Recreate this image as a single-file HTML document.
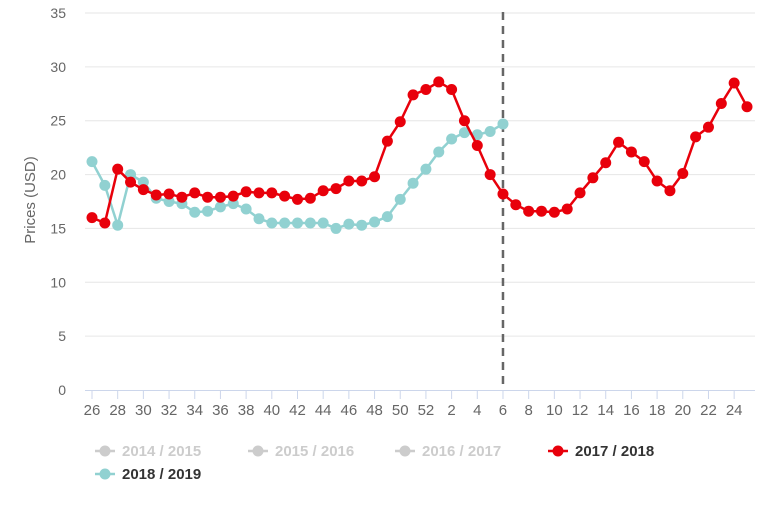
<!DOCTYPE html>
<html><head><meta charset="utf-8"><style>
body{margin:0;background:#fff;}
svg{font-family:"Liberation Sans",sans-serif;}
</style></head><body>
<svg width="768" height="512" id="c">
<g id="grid"></g>
<g id="axes"></g>
<text transform="translate(35,200) rotate(-90)" text-anchor="middle" font-size="15" fill="#666">Prices (USD)</text>
<g id="series"></g>
<g id="legend"></g>
</svg>
<script>
const weeks=[26,27,28,29,30,31,32,33,34,35,36,37,38,39,40,41,42,43,44,45,46,47,48,49,50,51,52,1,2,3,4,5,6,7,8,9,10,11,12,13,14,15,16,17,18,19,20,21,22,23,24,25];
const series2017=[16.0,15.5,20.5,19.3,18.6,18.1,18.2,17.9,18.3,17.9,17.9,18.0,18.4,18.3,18.3,18.0,17.7,17.8,18.5,18.7,19.4,19.4,19.8,23.1,24.9,27.4,27.9,28.6,27.9,25.0,22.7,20.0,18.2,17.2,16.6,16.6,16.5,16.8,18.3,19.7,21.1,23.0,22.1,21.2,19.4,18.5,20.1,23.5,24.4,26.6,28.5,26.3];
const series2018=[21.2,19.0,15.3,20.0,19.3,17.8,17.5,17.3,16.5,16.6,17.0,17.3,16.8,15.9,15.5,15.5,15.5,15.5,15.5,15.0,15.4,15.3,15.6,16.1,17.7,19.2,20.5,22.1,23.3,23.9,23.7,24.0,24.7];
const yTicks=[0,5,10,15,20,25,30,35];
const currentWeekIndex=32;
const NS="http://www.w3.org/2000/svg";
const x=i=>92+i*(655/51);
const y=v=>390-v*(377/35);
function mk(tag,attrs,parent){const e=document.createElementNS(NS,tag);for(const k in attrs)e.setAttribute(k,attrs[k]);parent.appendChild(e);return e;}
const grid=document.getElementById('grid'),axes=document.getElementById('axes'),ser=document.getElementById('series'),leg=document.getElementById('legend');
yTicks.forEach(t=>{
 if(t>0){const l=mk('line',{x1:85,x2:755,y1:y(t),y2:y(t),stroke:'#e6e6e6'},grid);
 }
 const tx=mk('text',{x:66,y:y(t)+5,'text-anchor':'end','font-size':14,fill:'#666'},axes);tx.textContent=t;
 
});
const ax=mk('line',{x1:85,x2:755,y1:390.5,y2:390.5,stroke:'#ccd6eb'},axes);

weeks.forEach((w,i)=>{
 if(w%2===0){
 mk('line',{x1:x(i),x2:x(i),y1:390,y2:399,stroke:'#ccd6eb'},axes);
 const tx=mk('text',{x:x(i),y:415,'text-anchor':'middle','font-size':15,fill:'#666'},axes);tx.textContent=w;
 }
});
const dl=mk('line',{x1:x(currentWeekIndex),x2:x(currentWeekIndex),y1:12,y2:390,stroke:'#666','stroke-width':2.5,'stroke-dasharray':'8,6'},ser);

function draw(data,color,name){
 const g=mk('g',{},ser);
 mk('polyline',{points:data.map((v,i)=>x(i)+','+y(v)).join(' '),fill:'none',stroke:color,'stroke-width':2.5},g);
 data.forEach((v,i)=>{const c=mk('circle',{cx:x(i),cy:y(v),r:5.5,fill:color},g);
 });
}
draw(series2018,'#91d1d1','series-2018-2019');
draw(series2017,'#e8000b','series-2017-2018');
const items=[['2014 / 2015',95,451,'#ccc','#ccc'],['2015 / 2016',248,451,'#ccc','#ccc'],['2016 / 2017',395,451,'#ccc','#ccc'],['2017 / 2018',548,451,'#e8000b','#333'],['2018 / 2019',95,474,'#91d1d1','#333']];
items.forEach(it=>{
 const g=mk('g',{},leg);
 mk('line',{x1:it[1],x2:it[1]+20,y1:it[2],y2:it[2],stroke:it[3],'stroke-width':2.5},g);
 mk('circle',{cx:it[1]+10,cy:it[2],r:5.5,fill:it[3]},g);
 const t=mk('text',{x:it[1]+27,y:it[2]+5,'font-size':15,'font-weight':'bold',fill:it[4]},g);t.textContent=it[0];
});
</script>
</body></html>
